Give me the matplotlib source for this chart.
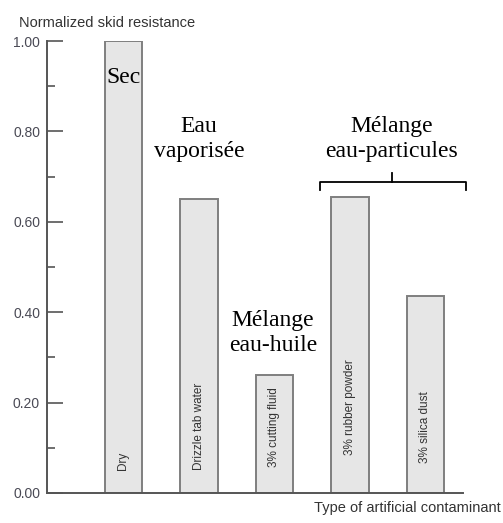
import numpy as np
import matplotlib.pyplot as plt
from matplotlib.ticker import MultipleLocator

# donnees
categories = ["Dry", "Drizzle tab water", "3% cutting fluid",
              "3% rubber powder", "3% silica dust"]
valeurs = [1.00, 0.65, 0.26, 0.655, 0.436]
annotations = ["Sec", "Eau\nvaporisée", "Mélange\neau-huile", "Mélange\neau-particules"]

fig = plt.figure(figsize=(5.03, 5.23), dpi=100)
ax = fig.add_axes([0.0934, 0.0574, 0.8271, 0.8642])

x = np.arange(len(categories))
ax.bar(x, valeurs, width=0.5, color="#e6e6e6", edgecolor="#7f7f7f", linewidth=1.4)

# etiquettes verticales dans les barres
bas = [0.05, 0.05, 0.057, 0.083, 0.066]
for xi, lab, yb in zip(x, categories, bas):
    ax.text(xi, yb, lab, rotation=90, ha="center", va="bottom",
            fontsize=8.5, color="#333333", family="Liberation Sans")

ax.set_xlim(-1.013, 4.497)
ax.set_ylim(0, 1.0)
ax.set_xticks([])
ax.yaxis.set_major_locator(MultipleLocator(0.2))
ax.yaxis.set_minor_locator(MultipleLocator(0.1))
ax.set_yticks(np.arange(0, 1.01, 0.2))
ax.set_yticklabels([f"{v:.2f}" for v in np.arange(0, 1.01, 0.2)])
ax.tick_params(axis="y", which="major", direction="in", length=11.5, width=1.2,
               color="#555555", labelsize=10, labelcolor="#4a4a55", pad=5)
ax.tick_params(axis="y", which="minor", direction="in", length=5.5, width=1.2,
               color="#555555")
for lab in ax.get_yticklabels():
    lab.set_family("Liberation Sans")

for s in ["top", "right"]:
    ax.spines[s].set_visible(False)
for s in ["left", "bottom"]:
    ax.spines[s].set_color("#555555")
    ax.spines[s].set_linewidth(1.4)

serif = dict(family="Liberation Serif", fontsize=17, ha="center", va="center",
             linespacing=1.25, color="black")
ax.text(0, 0.92, annotations[0], **serif)
ax.text(1.0, 0.783, annotations[1], **serif)
ax.text(1.98, 0.355, annotations[2], **serif)
ax.text(3.55, 0.783, annotations[3], **serif)

# accolade
bx0, bx1, by = 2.6, 4.53, 0.688
ax.plot([bx0, bx0, bx1, bx1], [by - 0.018, by, by, by - 0.018], color="black",
        lw=1.3, clip_on=False)
ax.plot([3.55, 3.55], [by, by + 0.02], color="black", lw=1.3, clip_on=False)

fig.text(0.038, 0.956, "Normalized skid resistance", fontsize=10.5,
         color="#333333", family="Liberation Sans", va="center")
fig.text(0.995, 0.029, "Type of artificial contaminant", fontsize=10.5,
         color="#333333", family="Liberation Sans", va="center", ha="right")

fig.savefig("out.png", dpi=100)
